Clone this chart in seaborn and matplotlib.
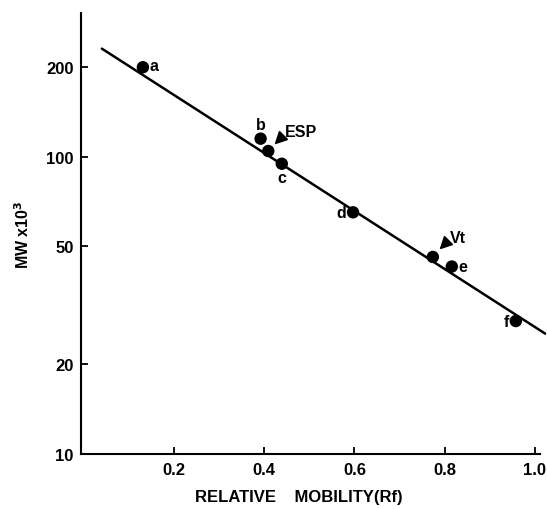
import matplotlib
matplotlib.use('Agg')

import numpy as np
import pandas as pd
import matplotlib.pyplot as plt
import matplotlib.transforms as mtransforms
from matplotlib.markers import MarkerStyle
import seaborn as sns

# ------------------------------------------------------------------
# data
# ------------------------------------------------------------------
std_labels = ['a', 'b', 'c', 'd', 'e', 'f']
std_rf = [0.131, 0.392, 0.439, 0.597, 0.816, 0.958]
std_mw = [200, 115, 94.7, 65, 42.7, 28.0]

prot_labels = ['ESP', 'Vt']
prot_rf = [0.409, 0.774]
prot_mw = [104.5, 46]

fit_rf = [0.04, 1.023]
fit_mw = [231, 25.4]

y_ticks = [10, 20, 50, 100, 200]
x_ticks = [0.2, 0.4, 0.6, 0.8, 1.0]
x_tick_labels = ['0.2', '0.4', '0.6', '0.8', '1.0']

# label offsets (points) relative to each marker
std_offsets = {'a': (5, 1), 'b': (0, 10), 'c': (0, -10), 'd': (-5, 0), 'e': (5, 0), 'f': (-5, 0)}
std_align = {'a': ('left', 'center'), 'b': ('center', 'center'), 'c': ('center', 'center'),
             'd': ('right', 'center'), 'e': ('left', 'center'), 'f': ('right', 'center')}

sns.set_style('ticks', {'text.color': 'black', 'axes.edgecolor': 'black',
                        'axes.labelcolor': 'black', 'xtick.color': 'black', 'ytick.color': 'black'})
plt.rcParams['font.family'] = ['Liberation Sans', 'DejaVu Sans']
plt.rcParams['font.weight'] = 'bold'

fig = plt.figure(figsize=(5.47, 5.10), dpi=100)
ax = fig.add_axes([0.1475, 0.108, 0.84, 0.865])

df_std = pd.DataFrame({'rf': std_rf, 'mw': std_mw, 'lab': std_labels})
df_prot = pd.DataFrame({'rf': prot_rf, 'mw': prot_mw, 'lab': prot_labels})
df_fit = pd.DataFrame({'rf': fit_rf, 'mw': fit_mw})

sns.lineplot(data=df_fit, x='rf', y='mw', ax=ax, color='black', lw=1.8, clip_on=False)
sns.scatterplot(data=df_std, x='rf', y='mw', ax=ax, color='black', s=80, edgecolor='none', zorder=3)
sns.scatterplot(data=df_prot, x='rf', y='mw', ax=ax, color='black', s=80, edgecolor='none', zorder=3)

for _, r in df_std.iterrows():
    dx, dy = std_offsets[r['lab']]
    ha, va = std_align[r['lab']]
    ax.annotate(r['lab'], (r['rf'], r['mw']), xytext=(dx, dy), textcoords='offset points',
                ha=ha, va=va, fontsize=11.5, fontweight='bold', color='black')

# arrowhead triangles pointing at ESP and Vt
tri = MarkerStyle('<', transform=mtransforms.Affine2D().rotate_deg(45))
for _, r in df_prot.iterrows():
    tr = mtransforms.offset_copy(ax.transData, fig=fig, x=8, y=9, units='points')
    ax.plot([r['rf']], [r['mw']], marker=tri, color='black', markersize=8, transform=tr, clip_on=False)
    ax.annotate(r['lab'], (r['rf'], r['mw']), xytext=(12, 14), textcoords='offset points',
                ha='left', va='center', fontsize=11.5, fontweight='bold', color='black')

ax.set_yscale('log')
ax.set_ylim(10, 305)
ax.set_xlim(-0.007, 1.012)
ax.set_yticks(y_ticks)
ax.set_yticklabels([str(v) for v in y_ticks])
ax.yaxis.set_minor_locator(matplotlib.ticker.NullLocator())
ax.set_xticks(x_ticks)
ax.set_xticklabels(x_tick_labels)

ax.tick_params(axis='both', direction='in', length=5, width=1.3, labelsize=12, pad=6, colors='black')
ax.tick_params(axis='y', pad=5)
for lab in ax.get_xticklabels() + ax.get_yticklabels():
    lab.set_fontweight('bold')

ax.spines['top'].set_visible(False)
ax.spines['right'].set_visible(False)
ax.spines['left'].set_linewidth(1.5)
ax.spines['bottom'].set_linewidth(1.5)

ax.set_xlabel('RELATIVE    MOBILITY(Rf)', fontsize=12, fontweight='bold', labelpad=10)
ax.xaxis.set_label_coords(0.475, -0.08)
ax.set_ylabel(r'MW x10$^{\mathbf{3}}$', fontsize=11.5, fontweight='bold', labelpad=10)

plt.savefig('out.png', dpi=100)
plt.close()
